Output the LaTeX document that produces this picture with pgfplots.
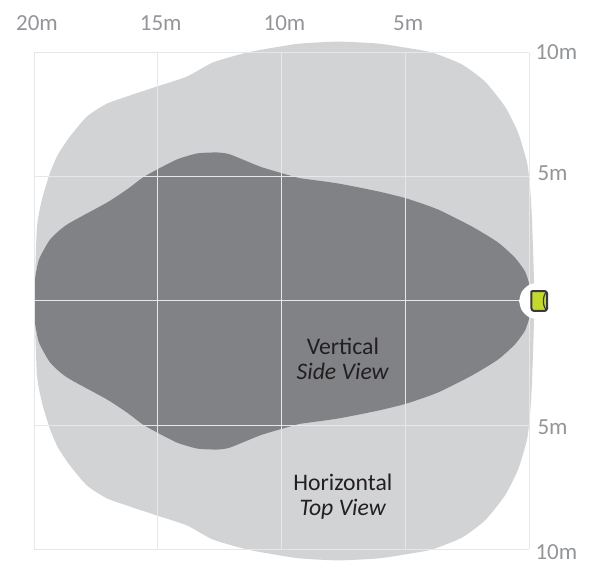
\documentclass[border=0pt]{standalone}
\usepackage{pgfplots}
\pgfplotsset{compat=1.18}
\usepackage{fontspec}
\setmainfont{Carlito}
\definecolor{outerc}{HTML}{D1D3D4}
\definecolor{innerc}{HTML}{808285}
\definecolor{gridc}{HTML}{E6E7E8}
\definecolor{tickc}{HTML}{939598}
\definecolor{txtc}{HTML}{231F20}
\definecolor{sensc}{HTML}{C4D82E}
\definecolor{sensd}{HTML}{3A3A3C}
\newcommand{\lbl}[2]{\raisebox{#1}[10bp][0pt]{#2}}
\begin{document}
\begin{tikzpicture}
\begin{axis}[
  overlay,
  at={(0,0)}, anchor=south west,
  scale only axis, width=495bp, height=496bp,
  xmin=0, xmax=20, ymin=-10, ymax=10, x dir=reverse,
  clip=false,
  axis line style={draw=none},
  major tick length=0pt,
  xtick={5,10,15,20}, xticklabels={5m,10m,15m,20m},
  ytick={-10,-5,0,5,10},
  yticklabels={\lbl{-3bp}{10m},\lbl{-2bp}{\hspace{2bp}5m},{},\lbl{3.5bp}{\hspace{2bp}5m},\lbl{1bp}{10m}},
  xticklabel pos=upper, yticklabel pos=right,
  tick label style={font=\fontsize{23bp}{25bp}\selectfont, text=tickc},
  x tick label style={xshift=3bp, yshift=19bp},
  y tick label style={xshift=3bp, yshift=-2.5bp, anchor=west},
]
\addplot[fill=outerc, draw=none, smooth, tension=0.35] coordinates {
 (20,0) (19.96,.87) (19.88,3.00) (19.68,4.09) (19.35,5.18) (19.03,5.91) (18.55,6.63) (17.86,7.44) (17.05,7.96) (16.0,8.33) (15.03,8.65) (13.82,9.05) (12.77,9.62) (11.39,10.02) (10.06,10.26) (9.25,10.38) (7.72,10.46) (6.10,10.38) (5.01,10.22) (3.92,10.02) (2.71,9.54) (1.78,8.85) (.97,7.84) (.44,6.79) (.08,5.58) (-.04,4.62) (-.12,3.29) (-.20,.87) (-.20,0)
 (-.20,-.87) (-.12,-3.29) (-.04,-4.62) (.08,-5.58) (.44,-6.79) (.97,-7.84) (1.78,-8.85) (2.71,-9.54) (3.92,-10.02) (5.01,-10.22) (6.10,-10.38) (7.72,-10.46) (9.25,-10.38) (10.06,-10.26) (11.39,-10.02) (12.77,-9.62) (13.82,-9.05) (15.03,-8.65) (16.0,-8.33) (17.05,-7.96) (17.86,-7.44) (18.55,-6.63) (19.03,-5.91) (19.35,-5.18) (19.68,-4.09) (19.88,-3.00) (19.96,-.87) (20,0)
};
\addplot[fill=innerc, draw=none, smooth, tension=0.35] coordinates {
 (20,0) (19.96,.87) (19.80,1.67) (19.35,2.48) (18.67,3.08) (17.05,3.97) (16.24,4.50) (15.60,4.98) (15.03,5.30) (14.22,5.71) (13.41,5.95) (12.61,5.99) (12.08,5.91) (10.87,5.42) (9.94,5.14) (9.37,4.98) (9.17,4.94) (7.72,4.74) (6.10,4.42) (4.93,4.13) (3.68,3.69) (2.30,3.00) (1.25,2.36) (.57,1.75) (.16,1.19) (-.04,.58) (-.08,0)
 (-.04,-.58) (.16,-1.19) (.57,-1.75) (1.25,-2.36) (2.30,-3.00) (3.68,-3.69) (4.93,-4.13) (6.10,-4.42) (7.72,-4.74) (9.17,-4.94) (9.37,-4.98) (9.94,-5.14) (10.87,-5.42) (12.08,-5.91) (12.61,-5.99) (13.41,-5.95) (14.22,-5.71) (15.03,-5.30) (15.60,-4.98) (16.24,-4.50) (17.05,-3.97) (18.67,-3.08) (19.35,-2.48) (19.80,-1.67) (19.96,-.87) (20,0)
};
% grid lines, drawn over the two areas
\addplot[gridc, line width=1bp] coordinates {(5,-10) (5,10)};
\addplot[gridc, line width=1bp] coordinates {(10,-10) (10,10)};
\addplot[gridc, line width=1bp] coordinates {(15,-10) (15,10)};
\addplot[gridc, line width=1bp] coordinates {(20,-10) (20,10)};
\addplot[gridc, line width=1bp] coordinates {(0,-10) (0,10)};
\addplot[gridc, line width=1bp] coordinates {(0,-10) (20,-10)};
\addplot[gridc, line width=1bp] coordinates {(0,-5) (20,-5)};
\addplot[gridc, line width=1bp] coordinates {(0,0) (20,0)};
\addplot[gridc, line width=1bp] coordinates {(0,5) (20,5)};
\addplot[gridc, line width=1bp] coordinates {(0,10) (20,10)};
% white notch and sensor
\addplot[fill=white, draw=none, smooth] coordinates {(.40,0) (.30,.36) (.03,.63) (-.33,.73) (-.69,.63) (-.96,.36) (-1.06,0) (-.96,-.36) (-.69,-.63) (-.33,-.73) (.03,-.63) (.30,-.36) (.40,0)};
\addplot[fill=sensc, draw=sensd, line width=2bp, rounded corners=2.5bp] coordinates {(-.10,.40) (-.73,.40) (-.73,-.40) (-.10,-.40) (-.10,.40)};
\addplot[draw=sensd, line width=1.2bp, smooth] coordinates {(-.70,.38) (-.61,.2) (-.58,0) (-.61,-.2) (-.70,-.38)};
\node[font=\fontsize{23.7bp}{25bp}\selectfont, text=txtc, align=center] at (axis cs:7.52,-2.32) {Vertical\\\textit{Side View}};
\node[font=\fontsize{23.7bp}{25bp}\selectfont, text=txtc, align=center] at (axis cs:7.52,-7.9) {Horizontal\\\textit{Top View}};
\end{axis}
\path[use as bounding box] (-34bp,-9bp) rectangle (561bp,549bp);
\end{tikzpicture}
\end{document}
